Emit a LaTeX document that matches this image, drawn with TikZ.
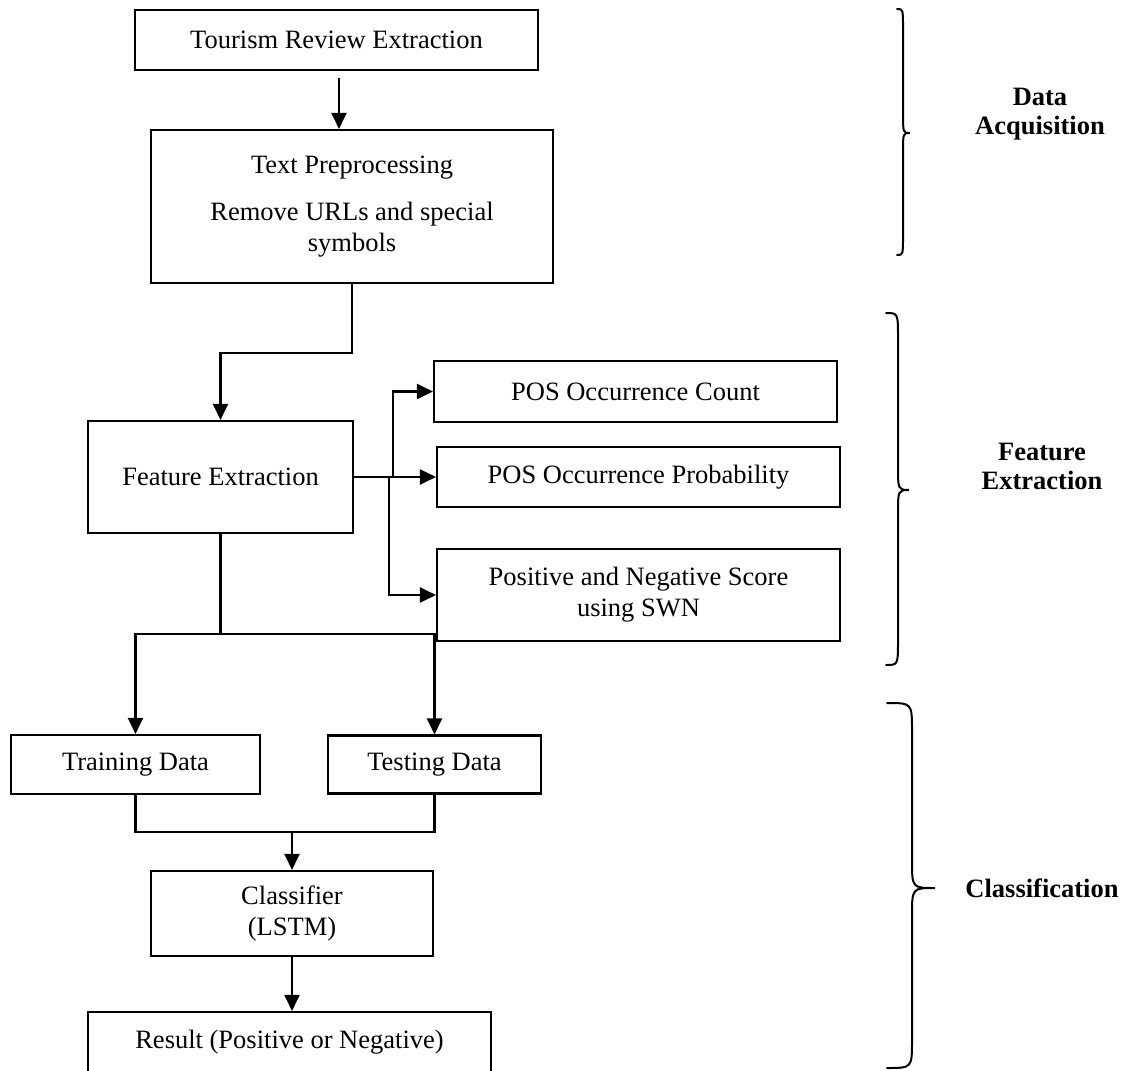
\documentclass[tikz,border=0pt]{standalone}
\usepackage{fontspec}
\setmainfont{Liberation Serif}
\usetikzlibrary{arrows.meta,calc}
\begin{document}
\begin{tikzpicture}[x=1pt,y=-1pt,
  box/.style={draw, line width=2.1pt, inner sep=0pt, align=center, font=\fontsize{26.5}{31}\selectfont},
  arr/.style={line width=2.1pt, -{Triangle[length=16pt,width=15pt]}},
  ln/.style={line width=2.1pt},
  brace/.style={line width=2pt, line cap=round},
  lbl/.style={align=center, font=\fontsize{26.5}{29}\selectfont\bfseries}]
\useasboundingbox (0,0) rectangle (1123,1070);

% boxes
\node[box, minimum width=403pt, minimum height=60pt] (tre) at (336.5,40) {Tourism Review Extraction};
\node[box, minimum width=402pt, minimum height=153pt] (pre) at (352,206.5) {Text Preprocessing\\[16pt]Remove URLs and special\\symbols};
\node[box, minimum width=265pt, minimum height=112pt] (fe) at (220.5,477) {Feature Extraction};
\node[box, minimum width=403pt, minimum height=61pt] (cnt) at (635.5,391.5) {POS Occurrence Count};
\node[box, minimum width=403pt, minimum height=60pt] (prob) at (638.5,477) {POS Occurrence Probability};
\node[box, minimum width=403pt, minimum height=92pt] (pns) at (638.5,595) {Positive and Negative Score\\using SWN};
\node[box, minimum width=249pt, minimum height=59pt] (train) at (135.5,764.5) {Training Data};
\node[box, minimum width=213pt, minimum height=58pt] (test) at (434.5,764.5) {Testing Data};
\node[box, minimum width=282pt, minimum height=85pt] (cls) at (292,913.5) {Classifier\\(LSTM)};
\node[box, minimum width=403pt, minimum height=60pt] (res) at (289.5,1042) {Result (Positive or Negative)};

% helper coordinates
\coordinate (x1) at (339,0);
\coordinate (b1) at (393,0);
\coordinate (b2) at (389,0);
\coordinate (sp) at (0,634);
\coordinate (jn) at (0,832);

% connectors
\draw[arr] ($(tre.south -| x1)+(0,7)$) -- (pre.north -| x1);
\draw[arr] (pre.south) -- ++(0,69) -| (fe.north);
\draw[arr] (fe.east) -- (prob.west);
\draw[arr] (fe.east -| b1) |- (cnt.west);
\draw[arr] (fe.east -| b2) |- (pns.west);
\draw[ln] (fe.south) -- (fe.south |- sp);
\draw[arr] (fe.south |- sp) -| (train.north);
\draw[arr] (fe.south |- sp) -| (test.north);
\draw[ln] (train.south) |- (test.south |- jn) -- (test.south);
\draw[arr] (cls.north |- jn) -- (cls.north);
\draw[arr] (cls.south) -- (cls.south |- res.north);

% braces
\draw[brace] (897,9) .. controls (903,9) .. (903,29) -- (903,113) .. controls (903,133) .. (910,133) .. controls (903,133) .. (903,153) -- (903,235) .. controls (903,255) .. (897,255);
\draw[brace] (886,313) .. controls (898,313) .. (898,338) -- (898,465) .. controls (898,490) .. (909,490) .. controls (898,490) .. (898,515) -- (898,640) .. controls (898,665) .. (886,665);
\draw[brace] (887,703) .. controls (912,703) .. (912,731) -- (912,860) .. controls (912,888) .. (935,888) .. controls (912,888) .. (912,916) -- (912,1040) .. controls (912,1068) .. (887,1068);

% labels
\node[lbl] (da) at (1040,114) {Data\\Acquisition};
\node[lbl] (fx) at (1042,466) {Feature\\Extraction};
\node[lbl] (cl) at (1042,888) {Classification};
\end{tikzpicture}
\end{document}
